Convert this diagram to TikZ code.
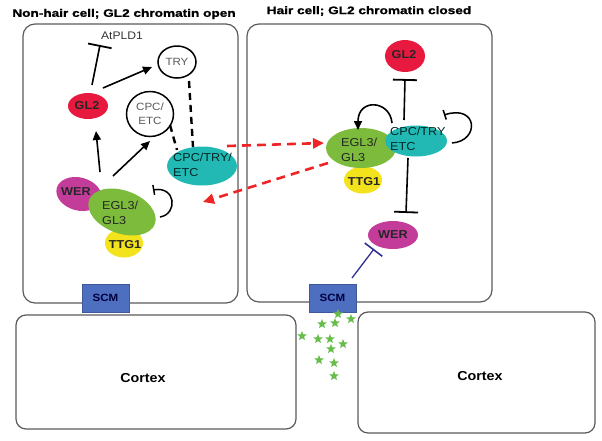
\documentclass[tikz,border=0pt]{standalone}
\usepackage{fontspec}
\setmainfont{Liberation Sans}[FakeStretch=1.1]
\newfontfamily\headfont{Liberation Sans}[FakeStretch=1.25,BoldFeatures={FakeBold=1.2}]
\usetikzlibrary{shapes.geometric,arrows.meta,calc}

\definecolor{glred}{HTML}{E8193F}
\definecolor{wermag}{HTML}{C33C9A}
\definecolor{eglgreen}{HTML}{7CBB3B}
\definecolor{ttgyel}{HTML}{F3E31C}
\definecolor{cpcteal}{HTML}{22B9B4}
\definecolor{scmblue}{HTML}{4E6EC0}
\definecolor{stargreen}{HTML}{66BD4A}
\definecolor{sigred}{HTML}{EE2526}
\definecolor{linkblue}{HTML}{2E3192}
\definecolor{boxgray}{HTML}{5A5A5A}

\begin{document}
\begin{tikzpicture}[x=1pt,y=-1pt,
    prot/.style={ellipse,inner sep=0pt},
    lab/.style={inner sep=0pt,align=left,text=black!85,font=\fontsize{11.5}{15}\selectfont},
    blab/.style={lab,font=\bfseries\fontsize{11.5}{15}\selectfont},
    outl/.style={ellipse,draw=black,line width=1.5pt,fill=white,inner sep=0pt,align=center,text=black!65,font=\fontsize{10.5}{14}\selectfont},
    act/.style={-{Triangle[length=9pt,width=8pt]},line width=1.6pt},
    inh/.style={-{Bar[width=24pt,line width=1.8pt]},line width=1.6pt},
    selfinh/.style={-{Bar[width=10pt,line width=1.5pt]},line width=1.5pt},
    sig/.style={-{Triangle[length=11pt,width=10pt]},sigred,line width=2.6pt,dash pattern=on 9pt off 6pt},
    weak/.style={line width=2.4pt,dash pattern=on 7pt off 5pt},
    cell/.style={draw=boxgray,line width=1.2pt,rounded corners=12pt},
    scmbox/.style={rectangle,fill=scmblue,draw=scmblue!80!black,minimum width=47pt,minimum height=28pt,font=\bfseries\fontsize{10.5}{12}\selectfont,text=black!75!blue},
    starnode/.style={star,star points=5,star point ratio=2.3,fill=stargreen,minimum size=10pt,inner sep=0pt}
  ]
  \useasboundingbox (0,0) rectangle (602,440);

  % titles
  \node[font=\headfont\bfseries\fontsize{10.9}{12}\selectfont] (hdL) at (124,14) {Non-hair cell; GL2 chromatin open};
  \node[font=\headfont\bfseries\fontsize{10.9}{12}\selectfont] (hdR) at (369,11) {Hair cell; GL2 chromatin closed};

  % cells and cortex
  \draw[cell] (23,24) rectangle (238,303);
  \draw[cell] (247,24) rectangle (492,302);
  \draw[cell,rounded corners=10pt] (16,315) rectangle (296,429);
  \draw[cell,rounded corners=10pt] (358,312) rectangle (595,433);
  \node[font=\bfseries\fontsize{13}{15}\selectfont] (ctxL) at (143,378) {Cortex};
  \node[font=\bfseries\fontsize{13}{15}\selectfont] (ctxR) at (480,376) {Cortex};
  \node[scmbox] (scmL) at (105.5,298) {SCM};
  \node[scmbox] (scmR) at (332.5,298) {SCM};

  % non-hair cell
  \node[font=\fontsize{11}{13}\selectfont,text=black!80] (atpld) at (122,36) {AtPLD1};
  \node[outl,minimum width=38pt,minimum height=32pt] (try) at (177,62) {TRY};
  \node[outl,minimum width=47pt,minimum height=45pt] (cpcL) at (150,114) {CPC/\\ETC};
  \node[prot,fill=glred,minimum width=40pt,minimum height=26pt] (gl2L) at (88,106) {};
  \node[blab] (gl2Lt) at (87,106) {GL2};
  \node[prot,fill=cpcteal,minimum width=70pt,minimum height=39pt] (cteL) at (202,166) {};
  \node[lab,anchor=west,text=black!70!teal] (cteLt) at (173,165) {CPC/TRY/\\ETC};
  \node[prot,fill=wermag,minimum width=46pt,minimum height=33pt,rotate=-15] (werL) at (79,194) {};
  \node[prot,fill=ttgyel,minimum width=38pt,minimum height=29pt] (ttgL) at (124,243) {};
  \node[blab] (ttgLt) at (125,245) {TTG1};
  \node[prot,fill=eglgreen,minimum width=70pt,minimum height=43pt,rotate=-20] (eglL) at (122,212) {};
  \node[blab] (werLt) at (76,192) {WER};
  \node[lab,anchor=west] (eglLt) at (102,213) {EGL3/\\GL3};

  \draw[inh] ($(gl2L)+(4,-21)$) -- ($(atpld)+(-22,9)$);
  \draw[act] ($(gl2L)+(15,-18)$) -- ($(try)+(-25,5)$);
  \draw[act] ($(eglL)+(-22,-40)$) -- ($(gl2L)+(8,25)$);
  \draw[act] ($(eglL)+(-9,-36)$) -- ($(cpcL)+(0,27)$);
  \draw[weak] ($(try)+(12,19)$) -- ($(cteL)+(-9,-19)$);
  \draw[weak] ($(cpcL)+(20,11)$) -- ($(cteL)+(-25,-16)$);
  \draw[selfinh] ($(eglL)+(38,5)$) .. controls +(18,-3) and +(23,-4) .. ($(eglL)+(31,-22)$);

  % hair cell
  \node[prot,fill=glred,minimum width=40pt,minimum height=32pt] (gl2R) at (405,56) {};
  \node[blab] (gl2Rt) at (404,55) {GL2};
  \node[prot,fill=ttgyel,minimum width=38pt,minimum height=27pt] (ttgR) at (363,180) {};
  \node[blab] (ttgRt) at (364,182) {TTG1};
  \node[prot,fill=eglgreen,minimum width=70pt,minimum height=40pt] (eglR) at (361,148) {};
  \node[lab,anchor=west] (eglRt) at (341,150) {EGL3/\\GL3};
  \node[prot,fill=cpcteal,minimum width=62pt,minimum height=31pt] (cteR) at (416,141) {};
  \node[lab,anchor=west,text=black!70!teal] (cteRt) at (390,139) {CPC/TRY\\ETC};
  \node[prot,fill=wermag,minimum width=50pt,minimum height=28pt] (werR) at (393,235) {};
  \node[blab] (werRt) at (393,235) {WER};

  \draw[inh] ($(cteR)+(-12,-21)$) -- ($(gl2R)+(0,23)$);
  \draw[act] ($(cteR)+(-24,-18)$) .. controls +(-2,-23) and +(0,-32) .. ($(eglR)+(-3,-18)$);
  \draw[selfinh] ($(cteR)+(36,2)$) .. controls +(28,-2) and +(34,-11) .. ($(cteR)+(28,-26)$);
  \draw[inh] ($(cteR)+(-8,17)$) -- ($(werR)+(13,-22)$);
  \draw[inh,linkblue,-{Bar[width=22pt,line width=1.6pt]},line width=1.3pt] ($(scmR)+(19.5,-20)$) -- ($(werR)+(-19,14)$);

  % signal between cells
  \draw[sig] ($(cteL)+(25,-20)$) -- ($(eglR)+(-37,-5)$);
  \draw[sig] ($(eglR)+(-33,15)$) -- ($(eglL)+(81,-10)$);

  % mobile signal
  \foreach \sx/\sy [count=\i] in {338/314,351/319,322/324,335/323,302/336,318/339,330/339,343/344,331/349,319/360,334/363,334/376}
    \node[starnode] (st\i) at (\sx,\sy) {};
\end{tikzpicture}
\end{document}
